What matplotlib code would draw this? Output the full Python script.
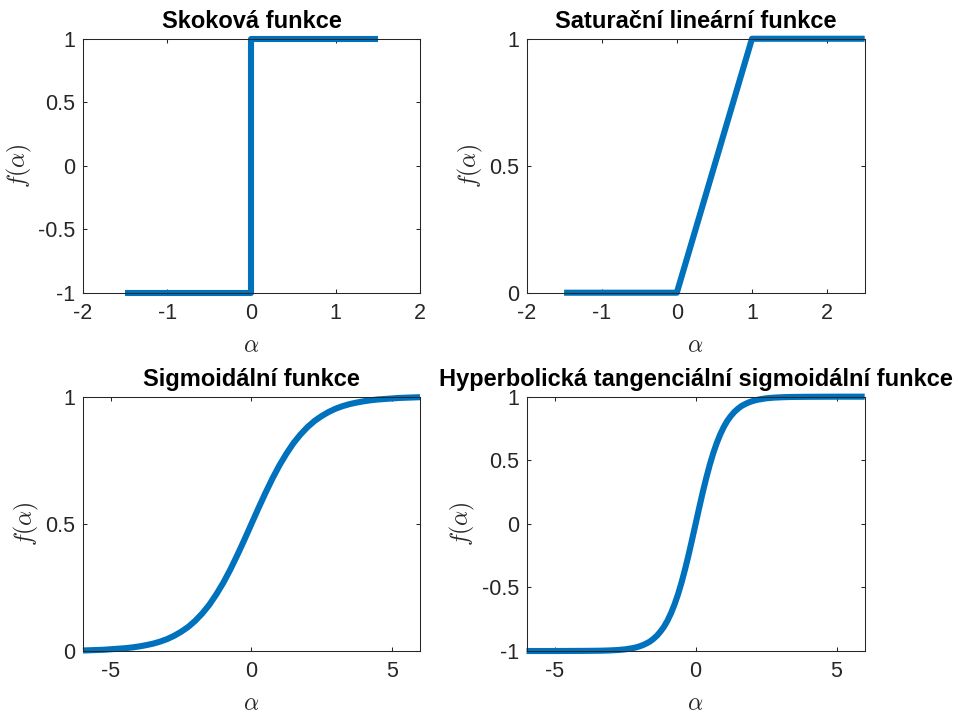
import numpy as np
import matplotlib
matplotlib.use('Agg')
import matplotlib.pyplot as plt

# step function
step_x = [-1.5, 0, 0, 1.5]
step_y = [-1, -1, 1, 1]

# saturating linear function
sat_x = [-1.5, 0, 1, 2.5]
sat_y = [0, 0, 1, 1]

# sigmoid, values
sig_x = [-6, -5.75, -5.5, -5.25, -5, -4.75, -4.5, -4.25, -4, -3.75, -3.5, -3.25, -3,
         -2.75, -2.5, -2.25, -2, -1.75, -1.5, -1.25, -1, -0.75, -0.5, -0.25, 0,
         0.25, 0.5, 0.75, 1, 1.25, 1.5, 1.75, 2, 2.25, 2.5, 2.75, 3,
         3.25, 3.5, 3.75, 4, 4.25, 4.5, 4.75, 5, 5.25, 5.5, 5.75, 6]
sig_y = [0.002, 0.003, 0.004, 0.005, 0.007, 0.009, 0.011, 0.014, 0.018, 0.023, 0.029, 0.037, 0.047,
         0.060, 0.076, 0.095, 0.119, 0.148, 0.182, 0.223, 0.269, 0.321, 0.378, 0.438, 0.5,
         0.562, 0.622, 0.679, 0.731, 0.777, 0.818, 0.852, 0.881, 0.905, 0.924, 0.940, 0.953,
         0.963, 0.971, 0.977, 0.982, 0.986, 0.989, 0.991, 0.993, 0.995, 0.996, 0.997, 0.998]

# hyperbolic tangent, values
tanh_x = [-6, -5, -4, -3.5, -3.25, -3, -2.75, -2.5, -2.25, -2.125, -2, -1.875, -1.75, -1.625,
          -1.5, -1.375, -1.25, -1.125, -1, -0.875, -0.75, -0.625, -0.5, -0.375, -0.25, -0.125, 0,
          0.125, 0.25, 0.375, 0.5, 0.625, 0.75, 0.875, 1, 1.125, 1.25, 1.375, 1.5,
          1.625, 1.75, 1.875, 2, 2.125, 2.25, 2.5, 2.75, 3, 3.25, 3.5, 4, 5, 6]
tanh_y = [-1.0, -1.0, -0.999, -0.998, -0.997, -0.995, -0.992, -0.987, -0.978, -0.972, -0.964, -0.954,
          -0.941, -0.926, -0.905, -0.880, -0.848, -0.810, -0.762, -0.704, -0.635, -0.555, -0.462,
          -0.358, -0.245, -0.124, 0.0,
          0.124, 0.245, 0.358, 0.462, 0.555, 0.635, 0.704, 0.762, 0.810, 0.848, 0.880, 0.905,
          0.926, 0.941, 0.954, 0.964, 0.972, 0.978, 0.987, 0.992, 0.995, 0.997, 0.998, 0.999, 1.0, 1.0]

titles = ['Skoková funkce', 'Saturační lineární funkce',
          'Sigmoidální funkce', 'Hyperbolická tangenciální sigmoidální funkce']

plt.rcParams['font.family'] = ['Liberation Sans', 'DejaVu Sans']
plt.rcParams['mathtext.fontset'] = 'cm'

blue = '#0072BD'
dark = '#262626'

fig = plt.figure(figsize=(9.58, 7.15), dpi=100)
positions = [
    [0.0866, 0.5906, 0.3518, 0.3552],
    [0.5496, 0.5906, 0.3530, 0.3552],
    [0.0866, 0.0895, 0.3518, 0.3557],
    [0.5496, 0.0895, 0.3530, 0.3557],
]
data = [(step_x, step_y), (sat_x, sat_y), (sig_x, sig_y), (tanh_x, tanh_y)]
xlims = [(-2, 2), (-2, 2.5), (-6, 6), (-6, 6)]
ylims = [(-1, 1), (0, 1), (0, 1), (-1, 1)]
xticks = [[-2, -1, 0, 1, 2], [-2, -1, 0, 1, 2], [-5, 0, 5], [-5, 0, 5]]
yticks = [[-1, -0.5, 0, 0.5, 1], [0, 0.5, 1], [0, 0.5, 1], [-1, -0.5, 0, 0.5, 1]]


def fmt(v):
    if float(v).is_integer():
        return '%d' % v
    return '%g' % v


for i in range(4):
    ax = fig.add_axes(positions[i])
    x, y = data[i]
    ax.plot(x, y, color=blue, linewidth=4.4, solid_joinstyle='round',
            solid_capstyle='butt', clip_on=False)
    ax.set_xlim(xlims[i])
    ax.set_ylim(ylims[i])
    ax.set_xticks(xticks[i])
    ax.set_yticks(yticks[i])
    ax.set_xticklabels([fmt(v) for v in xticks[i]])
    ax.set_yticklabels([fmt(v) for v in yticks[i]])
    ax.tick_params(direction='in', top=True, right=True, length=2.6, width=0.75,
                   color=dark, labelcolor=dark, labelsize=15.5)
    ax.tick_params(axis='x', pad=7.5)
    ax.tick_params(axis='y', pad=5.5)
    for s in ax.spines.values():
        s.set_color(dark)
        s.set_linewidth(0.75)
    ax.set_title(titles[i], fontsize=17, fontweight='bold', pad=8)
    ax.set_xlabel(r'$\alpha$', fontsize=17, color=dark, labelpad=8)
    ax.set_ylabel(r'$f(\alpha)$', fontsize=17, color=dark, labelpad=3)

plt.savefig('out.png', dpi=100)
